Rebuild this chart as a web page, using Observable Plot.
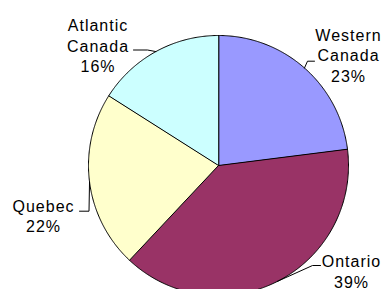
<!DOCTYPE html>
<html>
<head>
<meta charset="utf-8">
<script src="https://cdn.jsdelivr.net/npm/d3@7"></script>
<script src="https://cdn.jsdelivr.net/npm/@observablehq/plot@0.6"></script>
<style>
  html, body { margin: 0; padding: 0; background: #fff; }
  #chart { width: 382px; height: 289px; overflow: hidden; }
  #chart svg text { letter-spacing: 1px; }
</style>
</head>
<body>
<div id="chart"></div>
<script>
// ---- data ----
const categories = ["Western Canada", "Ontario", "Quebec", "Atlantic Canada"];
const shares = [23, 39, 22, 16];
const colors = ["#9999FF", "#993366", "#FFFFCC", "#CCFFFF"];

// ---- layout (pixels) ----
const W = 382, H = 289;
const pie = {cx: 218, cy: 165, r: 130};
const labelLayout = {
  "Western Canada": {x: 348, y0: 40.3, elbow: [307, 60.7], end: [314, 60.7]},
  "Ontario": {x: 351, y0: 266.5, elbow: [312, 265], end: [320, 265]},
  "Quebec": {x: 43, y0: 211, elbow: [88.5, 210.7], end: [79, 210.7]},
  "Atlantic Canada": {x: 97.5, y0: 30.7, elbow: [147, 49.5], end: [133, 49.5]}
};
const lineGap = 20.5;
const fontSize = 16;

// ---- geometry from data ----
const total = d3.sum(shares);
const pt = (a, r = pie.r) => [pie.cx + r * Math.sin(a), pie.cy - r * Math.cos(a)];
let acc = 0;
const slices = categories.map((name, i) => {
  const a0 = acc / total * 2 * Math.PI;
  acc += shares[i];
  const a1 = acc / total * 2 * Math.PI;
  return {name, value: shares[i], a0, a1, mid: (a0 + a1) / 2};
});

const slicePts = [];
for (const s of slices) {
  slicePts.push({name: s.name, x: pie.cx, y: pie.cy});
  const n = Math.max(2, Math.ceil((s.a1 - s.a0) / (Math.PI / 360)));
  for (let k = 0; k <= n; k++) {
    const [x, y] = pt(s.a0 + (s.a1 - s.a0) * k / n);
    slicePts.push({name: s.name, x, y});
  }
}

const leaderPts = [];
const textLines = [];
for (const s of slices) {
  const L = labelLayout[s.name];
  const [ex, ey] = pt(s.mid);
  leaderPts.push({name: s.name, x: ex, y: ey});
  leaderPts.push({name: s.name, x: L.elbow[0], y: L.elbow[1]});
  leaderPts.push({name: s.name, x: L.end[0], y: L.end[1]});
  const lines = s.name.split(" ").concat([`${s.value}%`]);
  lines.forEach((t, j) => textLines.push({text: t, x: L.x, y: L.y0 + j * lineGap - 0.32 * fontSize}));
}

const chart = Plot.plot({
  width: W,
  height: H,
  margin: 0,
  x: {domain: [0, W], range: [0, W], axis: null},
  y: {domain: [0, H], range: [0, H], axis: null},
  color: {domain: categories, range: colors},
  style: {background: "#fff", fontFamily: "'Liberation Sans', Arial, sans-serif"},
  marks: [
    Plot.line(slicePts, {x: "x", y: "y", z: "name", fill: "name", stroke: "#000", strokeWidth: 1, curve: "linear-closed", strokeLinejoin: "miter"}),
    Plot.line(leaderPts, {x: "x", y: "y", z: "name", stroke: "#000", strokeWidth: 1}),
    Plot.text(textLines, {x: "x", y: "y", text: "text", fontSize: fontSize, fill: "#000", textAnchor: "middle"})
  ]
});
document.getElementById("chart").appendChild(chart);
</script>
</body>
</html>
